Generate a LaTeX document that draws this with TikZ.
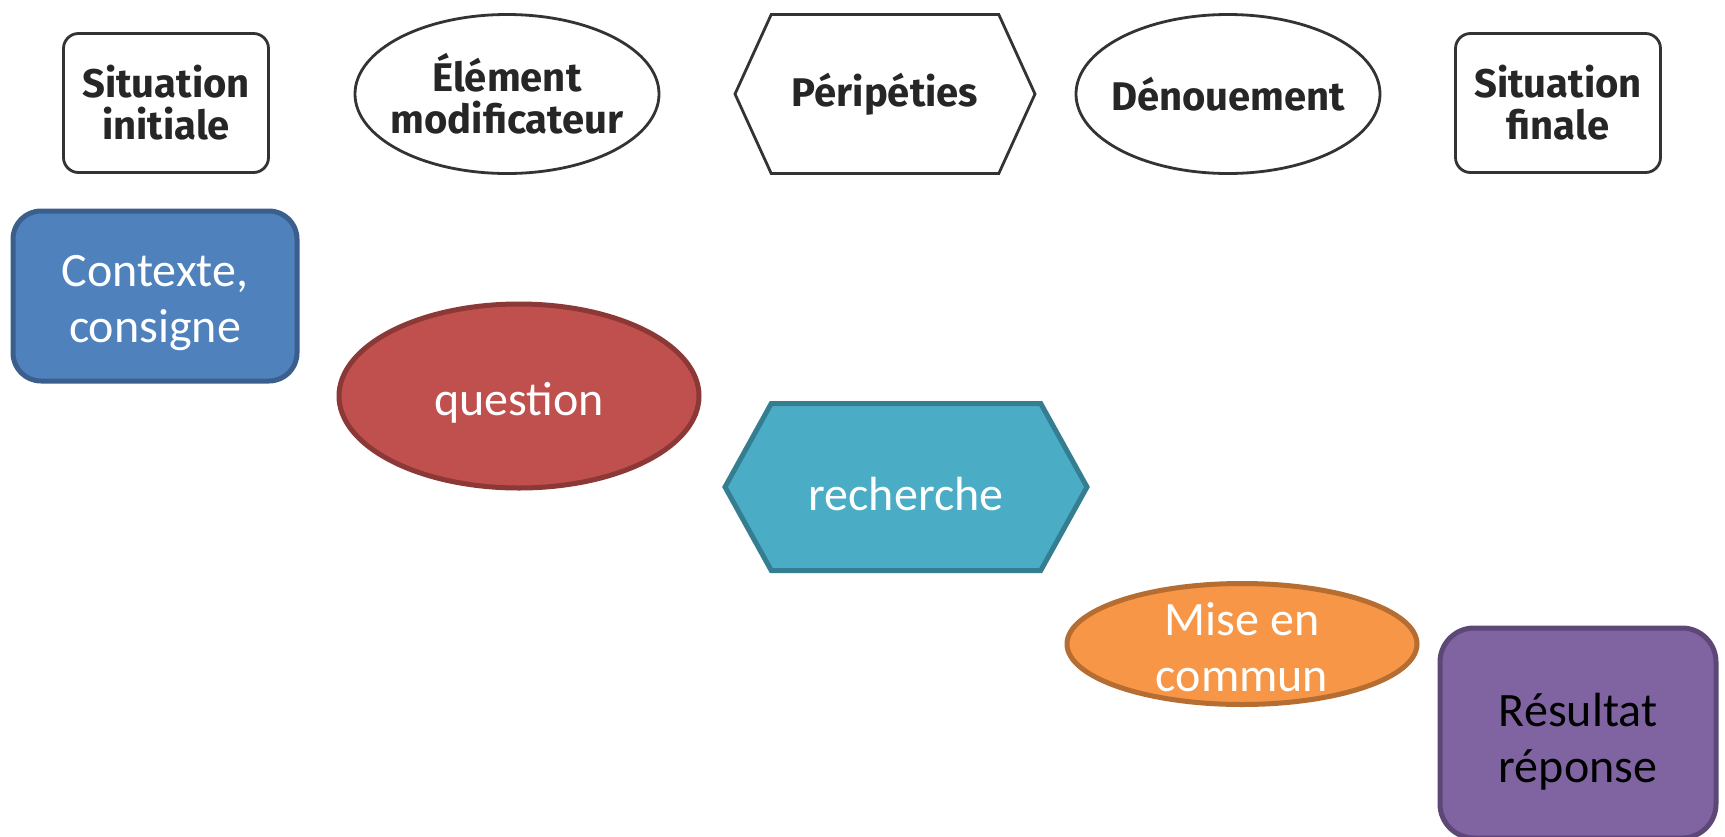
\documentclass[tikz,border=0pt]{standalone}
\usepackage{fontspec}
\setmainfont{Carlito}
\newfontfamily\titlefont{Fira Sans}
\usetikzlibrary{shapes.geometric,shapes.symbols}

\definecolor{ctxblue}{HTML}{4F81BD}
\definecolor{ctxblueline}{HTML}{3A5F8C}
\definecolor{qred}{HTML}{C0504D}
\definecolor{qredline}{HTML}{8C3836}
\definecolor{rcyan}{HTML}{4BACC6}
\definecolor{rcyanline}{HTML}{357D91}
\definecolor{morange}{HTML}{F79646}
\definecolor{morangeline}{HTML}{B66D31}
\definecolor{rpurple}{HTML}{8064A2}
\definecolor{rpurpleline}{HTML}{5C4776}
\definecolor{inkgray}{HTML}{333333}

\tikzset{
  titleshape/.style={draw=inkgray,line width=2.8pt,text=black!85,align=center,inner sep=0pt,
    font=\titlefont\bfseries\fontsize{40}{42}\selectfont},
  titleoval/.style={titleshape,ellipse,inner xsep=-14pt,minimum width=304pt,minimum height=159pt},
  stageshape/.style={line width=5pt,inner sep=0pt},
  stagetext/.style={align=center,inner sep=0pt,text=white,yshift=-7pt,
    font=\fontsize{48}{56}\selectfont},
}

\begin{document}
\begin{tikzpicture}[x=1pt,y=-1pt]
  \useasboundingbox[fill=white] (0,0) rectangle (1725,836);

  % schema narratif
  \node[titleshape,rectangle,rounded corners=15pt,minimum width=205pt,minimum height=139pt]
    (sitinit) at (166,103) {Situation\\initiale};
  \node[titleoval] (elemmod) at (507,94) {Élément\\modificateur};
  \node[titleshape,signal,signal to=east and west,signal pointer angle=131,
    minimum width=300pt,minimum height=159pt] (peripeties) at (885,94) {Péripéties};
  \node[titleoval] (denouement) at (1228,94) {Dénouement};
  \node[titleshape,rectangle,rounded corners=15pt,minimum width=205pt,minimum height=139pt]
    (sitfinale) at (1558,103) {Situation\\finale};

  % demarche
  \node[stageshape,rectangle,rounded corners=28pt,draw=ctxblueline,fill=ctxblue,
    minimum width=284pt,minimum height=170pt] (contexte) at (155,296) {};
  \node[stagetext] (contexte-txt) at (contexte.center) {Contexte,\\consigne};

  \node[stageshape,ellipse,draw=qredline,fill=qred,minimum width=360pt,minimum height=184pt]
    (question) at (519,396) {};
  \node[stagetext] (question-txt) at (question.center) {question};

  \node[stageshape,signal,signal to=east and west,signal pointer angle=122,draw=rcyanline,fill=rcyan,
    minimum width=362pt,minimum height=167pt] (recherche) at (906,487) {};
  \node[stagetext] (recherche-txt) at (recherche.center) {recherche};

  \node[stageshape,ellipse,draw=morangeline,fill=morange,minimum width=350pt,minimum height=121pt]
    (misecommun) at (1242,644) {};
  \node[stagetext,yshift=4pt] (misecommun-txt) at (misecommun.center) {Mise en\\commun};

  \node[stageshape,rectangle,rounded corners=34pt,draw=rpurpleline,fill=rpurple,
    minimum width=276pt,minimum height=210pt] (resultat) at (1578,733) {};
  \node[stagetext,text=black,yshift=-2pt] (resultat-txt) at (resultat.center) {Résultat\\réponse};
\end{tikzpicture}
\end{document}
